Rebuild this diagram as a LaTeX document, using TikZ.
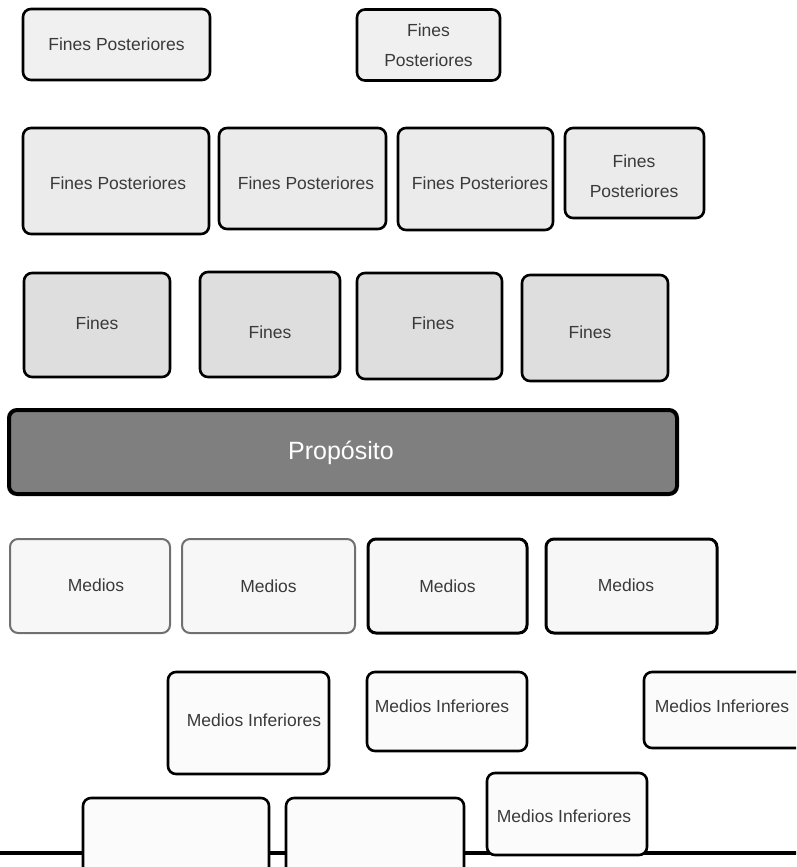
\documentclass[tikz,border=0pt]{standalone}
\usepackage{fontspec}
\setmainfont{Liberation Sans}
\definecolor{cone}{HTML}{F0F0F0}
\definecolor{ctwo}{HTML}{EBEBEB}
\definecolor{cfin}{HTML}{DEDEDE}
\definecolor{cprop}{HTML}{7F7F7F}
\definecolor{cmed}{HTML}{F7F7F7}
\definecolor{cinf}{HTML}{FBFBFB}
\definecolor{ctext}{HTML}{3A3A3A}
\definecolor{cgrayline}{HTML}{707070}
\tikzset{
  box/.style={rectangle, rounded corners=8pt, draw=black, line width=2.6pt, inner sep=0pt,
    font=\fontsize{17.5}{30}\selectfont, text=ctext, align=center},
  rowone/.style={box, fill=cone},
  rowtwo/.style={box, fill=ctwo},
  finbox/.style={box, fill=cfin},
  propbox/.style={box, fill=cprop, line width=4pt, text=white, font=\fontsize{25}{30}\selectfont},
  medbox/.style={box, fill=cmed, line width=3pt},
  medgray/.style={box, fill=cmed, draw=cgrayline, line width=2pt},
  infbox/.style={box, fill=cinf, line width=2.6pt},
  lbl/.style={font=\fontsize{17.5}{30}\selectfont, text=ctext, align=center, inner sep=0pt},
}
\begin{document}
\begin{tikzpicture}[x=1pt, y=-1pt]
\clip (0,0) rectangle (796,867);
\fill[white] (0,0) rectangle (796,867);
% baseline
\coordinate (L0) at (-5,853);
\coordinate (L1) at (801,853);
\draw[line width=4pt] (L0) -- (L1);
% row 1
\node[rowone, minimum width=187pt, minimum height=71pt] (r1a) at (116.5,44.5) {Fines Posteriores};
\node[rowone, minimum width=143pt, minimum height=71pt] (r1b) at (428.5,45) {Fines\\Posteriores};
% row 2
\node[rowtwo, minimum width=186pt, minimum height=106pt] (r2a) at (116,181) {};
\node[lbl] (t2a) at (118,183) {Fines Posteriores};
\node[rowtwo, minimum width=167pt, minimum height=101pt] (r2b) at (302.5,178.5) {};
\node[lbl] (t2b) at (306,183) {Fines Posteriores};
\node[rowtwo, minimum width=155pt, minimum height=102pt] (r2c) at (475.5,179) {};
\node[lbl] (t2c) at (480,183) {Fines Posteriores};
\node[rowtwo, minimum width=139pt, minimum height=90pt] (r2d) at (634.5,173) {};
\node[lbl] (t2d) at (634,176) {Fines\\Posteriores};
% row 3
\node[finbox, minimum width=146pt, minimum height=104pt] (f1) at (97,325) {};
\node[lbl] (tf1) at (97,323) {Fines};
\node[finbox, minimum width=140pt, minimum height=105pt] (f2) at (270,324.5) {};
\node[lbl] (tf2) at (270,332) {Fines};
\node[finbox, minimum width=145pt, minimum height=106pt] (f3) at (429.5,326) {};
\node[lbl] (tf3) at (433,323) {Fines};
\node[finbox, minimum width=146pt, minimum height=106pt] (f4) at (595,328) {};
\node[lbl] (tf4) at (590,332) {Fines};
% purpose
\node[propbox, minimum width=668pt, minimum height=84pt] (prop) at (343,452) {};
\node[lbl, text=white, font=\fontsize{25}{30}\selectfont] (tprop) at (341,453) {Propósito};
% means
\node[medgray, minimum width=160pt, minimum height=94pt] (m1) at (90,586) {};
\node[lbl] (tm1) at (96,585) {Medios};
\node[medgray, minimum width=173pt, minimum height=94pt] (m2) at (268.5,586) {Medios};
\node[medbox, minimum width=159pt, minimum height=94pt] (m3) at (447.5,586) {Medios};
\node[medbox, minimum width=171pt, minimum height=94pt] (m4) at (631.5,586) {};
\node[lbl] (tm4) at (626,585) {Medios};
% lower means
\node[infbox, minimum width=161pt, minimum height=102pt] (mi1) at (248.5,723) {};
\node[lbl] (tmi1) at (254,720) {Medios Inferiores};
\node[infbox, minimum width=160pt, minimum height=79pt] (mi2) at (447,711.5) {};
\node[lbl] (tmi2) at (442,706) {Medios Inferiores};
\node[infbox, minimum width=162pt, minimum height=76pt] (mi3) at (725,710) {};
\node[lbl] (tmi3) at (722,706) {Medios Inferiores};
\node[infbox, minimum width=160pt, minimum height=82pt] (mi4) at (567,814) {};
\node[lbl] (tmi4) at (564,816) {Medios Inferiores};
\node[infbox, minimum width=186pt, minimum height=104pt] (bb1) at (176,850) {};
\node[infbox, minimum width=178pt, minimum height=104pt] (bb2) at (375,850) {};
\end{tikzpicture}
\end{document}
